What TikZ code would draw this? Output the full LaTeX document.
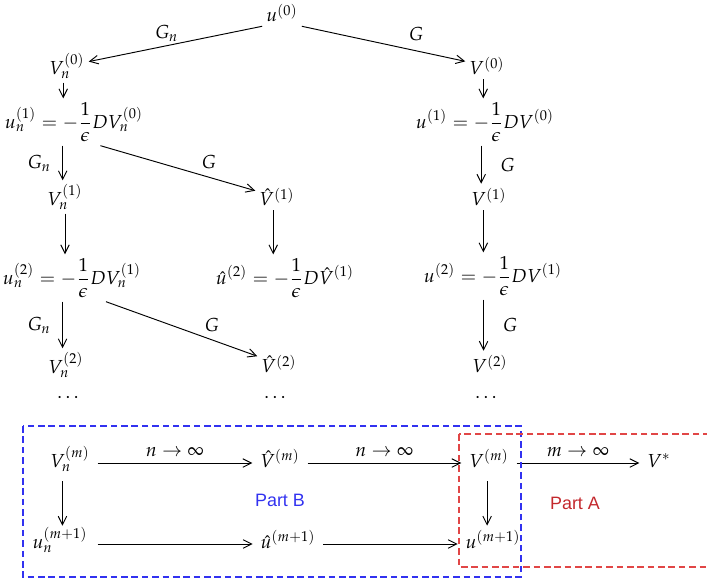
\documentclass[tikz,border=0pt]{standalone}
\usepackage{mathpazo}
\usepackage[no-math]{fontspec}
\newfontfamily\partfont{Liberation Sans}
\usetikzlibrary{calc,arrows.meta}
\definecolor{boxblue}{RGB}{50,50,240}
\definecolor{boxred}{RGB}{225,70,70}
\definecolor{textred}{RGB}{195,40,45}
\tikzset{
  mn/.style={inner sep=2pt},
  bn/.style={inner sep=4pt, text height=8pt, text depth=3pt},
  arr/.style={-{Straight Barb[length=4.5pt,width=4.5pt]}, line width=0.5pt},
  lbl/.style={inner sep=2pt},
  dbox/.style={dash pattern=on 3.5pt off 2pt, line width=0.55pt}
}
\begin{document}
\begin{tikzpicture}[x=0.53pt,y=-0.53pt]
\useasboundingbox (0,0) rectangle (707,582);
% top
\node[mn] (u0) at (282,13) {$u^{(0)}$};
\node[mn] (Vn0) at (67,66) {$V_n^{(0)}$};
\node[mn] (V0) at (487,66) {$V^{(0)}$};
\node[mn] (u1n) at (74,122) {$\displaystyle u_n^{(1)} = -\frac{1}{\epsilon}DV_n^{(0)}$};
\node[mn] (u1) at (485,122) {$\displaystyle u^{(1)} = -\frac{1}{\epsilon}DV^{(0)}$};
\node[mn] (Vn1) at (65,197) {$V_n^{(1)}$};
\node[mn] (Vh1) at (277,197) {$\hat{V}^{(1)}$};
\node[mn] (V1) at (489,197) {$V^{(1)}$};
\node[mn] (u2n) at (72,278) {$\displaystyle u_n^{(2)} = -\frac{1}{\epsilon}DV_n^{(1)}$};
\node[mn] (uh2) at (285,278) {$\displaystyle \hat{u}^{(2)} = -\frac{1}{\epsilon}D\hat{V}^{(1)}$};
\node[mn] (u2) at (493,276) {$\displaystyle u^{(2)} = -\frac{1}{\epsilon}DV^{(1)}$};
\node[mn] (Vn2) at (66,365) {$V_n^{(2)}$};
\node[mn] (Vh2) at (279,364) {$\hat{V}^{(2)}$};
\node[mn] (V2) at (490,364) {$V^{(2)}$};
\node[mn] (d1) at (68,397) {$\ldots$};
\node[mn] (d2) at (275,397) {$\ldots$};
\node[mn] (d3) at (486,397) {$\ldots$};
% top arrows
\draw[arr] (u0.south west) -- (Vn0) node[lbl, pos=0.55, above] {$G_n$};
\draw[arr] (u0.south east) -- (V0) node[lbl, pos=0.7, above=3pt] {$G$};
\draw[arr] ([xshift=-2pt]Vn0.south) -- ([xshift=-2pt]Vn0.south |- u1n.north);
\draw[arr] ([xshift=-2pt]V0.south) -- ([xshift=-2pt]V0.south |- u1.north);
\draw[arr] ([xshift=-6pt]u1n.south) -- ([xshift=-6pt]u1n.south |- Vn1.north) node[lbl, midway, left=4pt] {$G_n$};
\draw[arr] ([xshift=14pt]u1n.south) -- (Vh1) node[lbl, above=2pt, pos=0.7] {$G$};
\draw[arr] ([xshift=-2pt]u1.south) -- ([xshift=-2pt]u1.south |- V1.north) node[lbl, midway, right=8pt] {$G$};
\draw[arr] (Vn1) -- (Vn1 |- u2n.north);
\draw[arr] ([xshift=-2pt]Vh1.south) -- ([xshift=-2pt]Vh1.south |- uh2.north);
\draw[arr] ([xshift=-3pt]V1.south) -- ([xshift=-3pt]V1.south |- u2.north);
\draw[arr] ([xshift=-5pt]u2n.south) -- ([xshift=-5pt]u2n.south |- Vn2.north) node[lbl, midway, left=4pt] {$G_n$};
\draw[arr] ([xshift=18pt]u2n.south) -- (Vh2) node[lbl, above=2pt, pos=0.7] {$G$};
\draw[arr] ([xshift=-5pt]u2.south) -- ([xshift=-5pt]u2.south |- V2.north) node[lbl, midway, right=8pt] {$G$};
% bottom
\node[bn] (Vnm) at (70,463) {$V_n^{(m)}$};
\node[bn] (Vhm) at (280,463) {$\hat{V}^{(m)}$};
\node[bn] (Vm) at (489,463) {$V^{(m)}$};
\node[bn] (Vs) at (659,463) {$V^{*}$};
\node[bn] (unm1) at (60,544) {$u_n^{(m+1)}$};
\node[bn] (uhm1) at (288,544) {$\hat{u}^{(m+1)}$};
\node[bn] (um1) at (493,544) {$u^{(m+1)}$};
\draw[arr] (Vnm) -- (Vhm) node[lbl, midway, above=1pt] {$n\rightarrow\infty$};
\draw[arr] (Vhm) -- (Vm) node[lbl, midway, above=1pt] {$n\rightarrow\infty$};
\draw[arr] (Vm) -- (Vs) node[lbl, midway, above=1pt] {$m\rightarrow\infty$};
\draw[arr] ([xshift=-4pt]Vnm.south) -- ([xshift=-4pt]Vnm.south |- unm1.north);
\draw[arr] ([xshift=-1pt]Vm.south) -- ([xshift=-1pt]Vm.south |- um1.north);
\draw[arr] (Vnm.east |- unm1) -- (uhm1);
\draw[arr] (uhm1) -- (um1);
\node[text=boxblue, font=\partfont\fontsize{9.5}{11}\selectfont] (pb) at (280,500) {Part B};
\node[text=textred, font=\partfont\fontsize{9.5}{11}\selectfont] (pa) at (575,503) {Part A};
\draw[dbox, boxblue] (23,426) rectangle (521,577);
\draw[dbox, boxred] (459,434) rectangle (716,567);
\end{tikzpicture}
\end{document}
